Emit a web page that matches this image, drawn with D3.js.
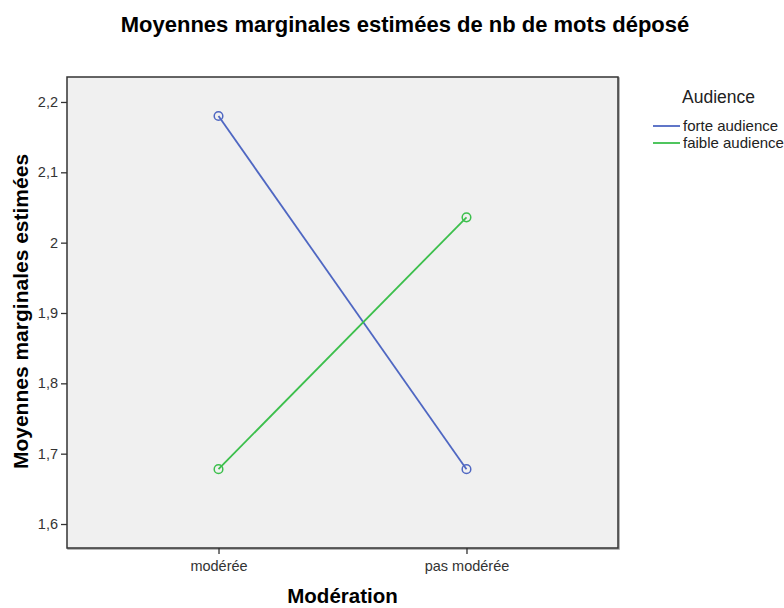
<!DOCTYPE html>
<html>
<head>
<meta charset="utf-8">
<script src="https://cdn.jsdelivr.net/npm/d3@7"></script>
<style>
  body { margin: 0; background: #fff; }
  svg { display: block; font-family: "Liberation Sans", Arial, sans-serif; }
</style>
</head>
<body>
<svg id="chart" width="784" height="608"></svg>
<script>
// data
var categories = ["modérée", "pas modérée"];
var seriesNames = ["forte audience", "faible audience"];
var forteAudience = [2.180, 1.678];
var faibleAudience = [1.678, 2.036];
var yTicks = [1.6, 1.7, 1.8, 1.9, 2.0, 2.1, 2.2];
var colors = ["#4f67c2", "#3cbf4c"];

var series = [forteAudience, faibleAudience];

var svg = d3.select("#chart");
var plot = {left: 67, top: 77, right: 618, bottom: 548};

var x = d3.scalePoint().domain(categories).range([plot.left, plot.right]).padding(0.611);
var y = d3.scaleLinear().domain([1.5659, 2.2355]).range([plot.bottom, plot.top]);

// plot background + frame (soft shadow on right/bottom like SPSS)
svg.append("rect")
  .attr("x", plot.left + 1).attr("y", plot.top + 1)
  .attr("width", plot.right - plot.left).attr("height", plot.bottom - plot.top)
  .attr("fill", "none").attr("stroke", "#a0a0a0").attr("stroke-width", 1.5);
svg.append("rect")
  .attr("x", plot.left).attr("y", plot.top)
  .attr("width", plot.right - plot.left).attr("height", plot.bottom - plot.top)
  .attr("fill", "#f0f0f0").attr("stroke", "#333").attr("stroke-width", 1.5);

// axes
var fmt = function(d) { return d3.format("~g")(d).replace(".", ","); };

var yAxis = svg.append("g")
  .attr("transform", "translate(" + plot.left + ",0)")
  .call(d3.axisLeft(y).tickValues(yTicks).tickFormat(fmt).tickSize(6).tickSizeOuter(0).tickPadding(3));
yAxis.select(".domain").remove();

var xAxis = svg.append("g")
  .attr("transform", "translate(0," + plot.bottom + ")")
  .call(d3.axisBottom(x).tickSize(6).tickSizeOuter(0).tickPadding(7));
xAxis.select(".domain").remove();

svg.selectAll(".tick line").attr("stroke", "#333").attr("stroke-width", 1.3);
svg.selectAll(".tick text")
  .attr("fill", "#333")
  .style("font-size", "14.5px")
  .style("font-family", "'Liberation Sans', Arial, sans-serif");

// lines + markers
var line = d3.line()
  .x(function(d, i) { return x(categories[i]); })
  .y(function(d) { return y(d); });

series.forEach(function(s, k) {
  svg.append("path")
    .datum(s)
    .attr("d", line)
    .attr("fill", "none")
    .attr("stroke", colors[k])
    .attr("stroke-width", 1.8);
  svg.selectAll(".pt" + k)
    .data(s)
    .enter().append("circle")
    .attr("class", "pt" + k)
    .attr("cx", function(d, i) { return x(categories[i]); })
    .attr("cy", function(d) { return y(d); })
    .attr("r", 4.3)
    .attr("fill", "none")
    .attr("stroke", colors[k])
    .attr("stroke-width", 1.5);
});

// titles
svg.append("text")
  .attr("x", 405).attr("y", 32)
  .attr("text-anchor", "middle")
  .style("font-size", "22px").style("font-weight", "bold")
  .text("Moyennes marginales estimées de nb de mots déposé");

svg.append("text")
  .attr("transform", "translate(28," + ((plot.top + plot.bottom) / 2 - 1) + ") rotate(-90)")
  .attr("text-anchor", "middle")
  .style("font-size", "21px").style("font-weight", "bold")
  .text("Moyennes marginales estimées");

svg.append("text")
  .attr("x", (plot.left + plot.right) / 2).attr("y", 603)
  .attr("text-anchor", "middle")
  .style("font-size", "20.5px").style("font-weight", "bold")
  .text("Modération");

// legend
var legend = svg.append("g").attr("transform", "translate(653,0)");
legend.append("text")
  .attr("x", 29).attr("y", 103)
  .attr("fill", "#222")
  .style("font-size", "17.5px")
  .text("Audience");

seriesNames.forEach(function(name, k) {
  var ly = 126 + k * 17;
  legend.append("line")
    .attr("x1", 0).attr("x2", 27)
    .attr("y1", ly).attr("y2", ly)
    .attr("stroke", colors[k]).attr("stroke-width", 1.8);
  legend.append("text")
    .attr("x", 30).attr("y", ly + 5)
    .attr("fill", "#222")
    .style("font-size", "15px")
    .text(name);
});
</script>
</body>
</html>
